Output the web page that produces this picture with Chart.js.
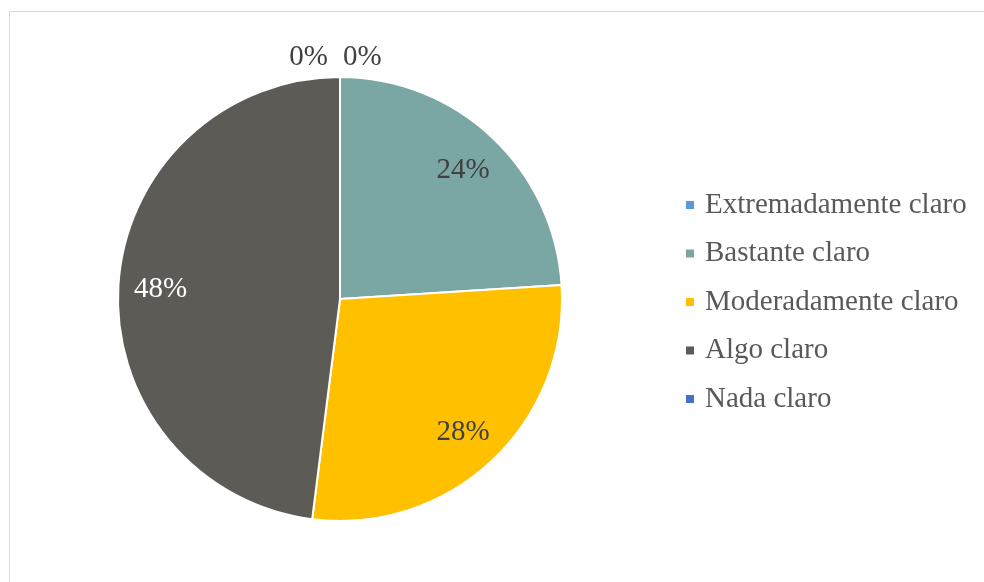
<!DOCTYPE html>
<html>
<head>
<meta charset="utf-8">
<script src="https://cdn.jsdelivr.net/npm/chart.js@4/dist/chart.umd.min.js"></script>
<style>
  html, body { margin: 0; padding: 0; background: #fff; overflow: hidden; }
  #wrap { position: relative; width: 984px; height: 582px; }
  #frame { position: absolute; left: 9px; top: 11px; width: 1000px; height: 600px; border: 1px solid #d9d9d9; }
  #claridad { position: absolute; left: 0; top: 0; }
</style>
</head>
<body>
<div id="wrap">
  <div id="frame"></div>
  <canvas id="claridad" width="984" height="582"></canvas>
</div>
<script>
var categories = ['Extremadamente claro', 'Bastante claro', 'Moderadamente claro', 'Algo claro', 'Nada claro'];
var porcentajes = [0, 24, 28, 48, 0];
var colores = ['#5B9BD5', '#7AA6A3', '#FFC000', '#5D5B55', '#4472C4'];

var fuente = '"Liberation Serif", "Times New Roman", serif';

// percentage labels: inside the slice, or just above the pie for empty ones
var etiquetas = {
    id: 'etiquetas',
    afterDatasetsDraw: function (chart, args, opts) {
        var ctx = chart.ctx;
        var meta = chart.getDatasetMeta(0);
        var data = chart.data.datasets[0].data;
        ctx.save();
        ctx.font = '29px ' + fuente;
        ctx.textBaseline = 'middle';
        meta.data.forEach(function (arc, i) {
            var p = arc.getProps(['x', 'y', 'startAngle', 'endAngle', 'outerRadius'], true);
            var mid = (p.startAngle + p.endAngle) / 2;
            var text = data[i] + '%';
            ctx.fillStyle = opts.colors[i];
            if (data[i] > 0) {
                var r = p.outerRadius * 0.81;
                ctx.textAlign = 'center';
                ctx.fillText(text, p.x + Math.cos(mid) * r, p.y + Math.sin(mid) * r + 2);
            } else {
                var ty = p.y - p.outerRadius - 20;
                if (i < data.length / 2) {
                    ctx.textAlign = 'left';
                    ctx.fillText(text, p.x + 3, ty);
                } else {
                    ctx.textAlign = 'right';
                    ctx.fillText(text, p.x - 12, ty);
                }
            }
        });
        ctx.restore();
    }
};

// legend column to the right of the pie
var leyenda = {
    id: 'leyenda',
    afterDraw: function (chart, args, opts) {
        var ctx = chart.ctx;
        var ds = chart.data.datasets[0];
        ctx.save();
        ctx.font = '29px ' + fuente;
        ctx.textBaseline = 'middle';
        ctx.textAlign = 'left';
        chart.data.labels.forEach(function (label, i) {
            var y = opts.top + i * opts.step;
            ctx.fillStyle = ds.backgroundColor[i];
            ctx.fillRect(opts.left, y - 4, 8, 8);
            ctx.fillStyle = '#595959';
            ctx.fillText(label, opts.left + 19, y);
        });
        ctx.restore();
    }
};

new Chart(document.getElementById('claridad'), {
    type: 'pie',
    data: {
        labels: categories,
        datasets: [{
            data: porcentajes,
            backgroundColor: colores,
            borderColor: '#ffffff',
            borderWidth: 2
        }]
    },
    options: {
        responsive: false,
        animation: false,
        layout: {
            padding: { left: 117, right: 421, top: 76, bottom: 60 }
        },
        plugins: {
            legend: { display: false },
            tooltip: { enabled: false },
            etiquetas: {
                colors: ['#404040', '#404040', '#404040', '#ffffff', '#404040']
            },
            leyenda: { left: 686, top: 205, step: 48.5 }
        }
    },
    plugins: [etiquetas, leyenda]
});
</script>
</body>
</html>
